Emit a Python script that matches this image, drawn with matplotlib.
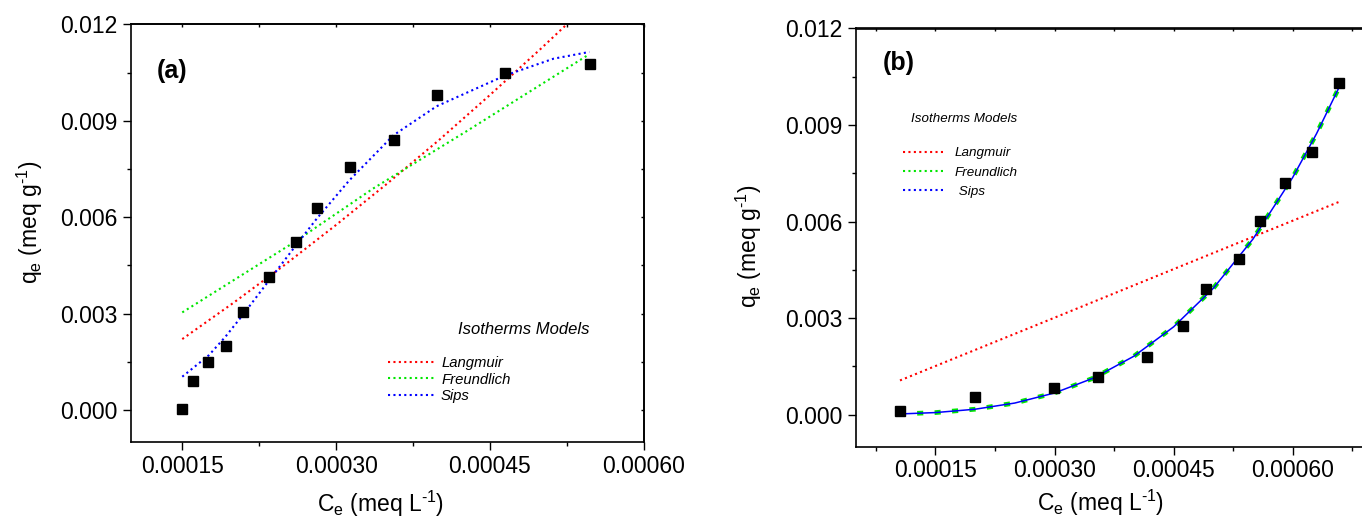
import matplotlib
matplotlib.use('Agg')
import matplotlib.pyplot as plt
from matplotlib.ticker import FixedLocator, FormatStrFormatter
from matplotlib.lines import Line2D

# ---------------- data ----------------
# panel (a) experimental points
a_ce = [0.000150, 0.000160, 0.0001755, 0.0001924, 0.0002094, 0.0002348, 0.0002607,
        0.0002811, 0.0003139, 0.0003567, 0.0003984, 0.0004651, 0.0005472]
a_qe = [0.00005, 0.00092, 0.00150, 0.00198, 0.00304, 0.00414, 0.00524,
        0.00629, 0.00757, 0.00841, 0.00979, 0.01050, 0.01075]
# panel (a) model curves
a_lang_x = [0.00015, 0.00020, 0.00025, 0.00030, 0.00035, 0.00040, 0.00045, 0.00050, 0.000525]
a_lang_y = [0.00221, 0.00334, 0.00452, 0.00576, 0.00705, 0.00839, 0.00980, 0.01125, 0.01200]
a_freu_x = [0.00015, 0.00026, 0.000336, 0.000427, 0.0005465]
a_freu_y = [0.00304, 0.00524, 0.00689, 0.00867, 0.01106]
a_sips_x = [0.00015, 0.000176, 0.000192, 0.000209, 0.000235, 0.000261, 0.000281,
            0.000313, 0.000356, 0.000398, 0.000465, 0.000512, 0.000547]
a_sips_y = [0.00104, 0.00171, 0.00228, 0.00296, 0.00405, 0.00513, 0.00595,
            0.00715, 0.00855, 0.00945, 0.01041, 0.01093, 0.01114]

# panel (b) experimental points
b_ce = [0.0001054, 0.0001993, 0.0002995, 0.0003543, 0.0004169, 0.000462,
        0.0004912, 0.000532, 0.0005591, 0.0005909, 0.0006244, 0.0006583]
b_qe = [0.000124, 0.00054, 0.00081, 0.00117, 0.00178, 0.00276,
        0.00391, 0.00482, 0.00603, 0.00721, 0.00816, 0.01032]
# panel (b) model curves
b_lang_x = [0.0001054, 0.00030, 0.00045, 0.0006583]
b_lang_y = [0.00106, 0.00301, 0.00452, 0.00661]
b_fit_x = [0.000105, 0.00015, 0.00020, 0.00025, 0.00030, 0.00035, 0.00040,
           0.00045, 0.00050, 0.00055, 0.00060, 0.00063, 0.000658]
b_fit_y = [0.0000177, 0.0000608, 0.000165, 0.000357, 0.00067, 0.001142, 0.001813,
           0.002725, 0.003924, 0.005456, 0.00737, 0.00873, 0.01015]

x_ticks = [0.00015, 0.00030, 0.00045, 0.00060]
a_x_minor = [0.000225, 0.000375, 0.000525]
b_x_minor = [0.000075, 0.000225, 0.000375, 0.000525, 0.000675]
y_ticks = [0.000, 0.003, 0.006, 0.009, 0.012]
y_minor = [-0.0015, 0.0015, 0.0045, 0.0075, 0.0105]

models = ['Langmuir', 'Freundlich', 'Sips']
legend_title = 'Isotherms Models'
xlabel = 'C$_\\mathregular{e}$ (meq L$^\\mathregular{\u20101}$)'
ylabel = 'q$_\\mathregular{e}$ (meq g$^\\mathregular{\u20101}$)'

# ---------------- style ----------------
plt.rcParams['font.family'] = ['Liberation Sans', 'DejaVu Sans']
plt.rcParams['mathtext.fontset'] = 'custom'
plt.rcParams['mathtext.rm'] = 'Liberation Sans'
plt.rcParams['mathtext.it'] = 'Liberation Sans:italic'
plt.rcParams['mathtext.bf'] = 'Liberation Sans:bold'

RED = '#ff0000'
GREEN = '#00e600'
BLUE = '#0000ff'
DOT = (0, (1, 1.6))

W, H = 1362, 522
fig = plt.figure(figsize=(W / 100, H / 100), dpi=100)


def fx(px):
    return px / W


def fy(py):
    return 1 - py / H


axA = fig.add_axes([fx(131), fy(442.3), (643.7 - 131) / W, (442.3 - 24.3) / H])
axB = fig.add_axes([fx(856.0), fy(446.7), (1372.1 - 856.0) / W, (446.7 - 28.5) / H])


def style(ax, xlim, xminor):
    ax.set_xlim(*xlim)
    ax.set_ylim(-0.001, 0.012)
    ax.xaxis.set_major_locator(FixedLocator(x_ticks))
    ax.xaxis.set_minor_locator(FixedLocator(xminor))
    ax.yaxis.set_major_locator(FixedLocator(y_ticks))
    ax.yaxis.set_minor_locator(FixedLocator(y_minor))
    ax.xaxis.set_major_formatter(FormatStrFormatter('%.5f'))
    ax.yaxis.set_major_formatter(FormatStrFormatter('%.3f'))
    ax.tick_params(which='major', direction='out', length=5.8, width=1.0,
                   labelsize=16.5, color='black')
    ax.tick_params(axis='x', which='major', pad=3)
    ax.tick_params(axis='y', which='major', pad=4)
    ax.tick_params(which='minor', direction='out', length=3.0, width=1.0)
    for s in ax.spines.values():
        s.set_linewidth(1.2)
    top = ax.secondary_xaxis('top')
    top.xaxis.set_major_locator(FixedLocator(x_ticks))
    top.xaxis.set_minor_locator(FixedLocator(xminor))
    top.tick_params(which='both', direction='in', length=2.2, width=1.0, labeltop=False)
    top.spines['top'].set_linewidth(1.2)
    right = ax.secondary_yaxis('right')
    right.yaxis.set_major_locator(FixedLocator(y_ticks))
    right.yaxis.set_minor_locator(FixedLocator(y_minor))
    right.tick_params(which='both', direction='in', length=2.2, width=1.0, labelright=False)
    right.spines['right'].set_linewidth(1.2)


style(axA, (0.0001, 0.0006), a_x_minor)
style(axB, (0.00005, 0.0007), b_x_minor)

# ---------------- panel (a) ----------------
lA1, = axA.plot(a_lang_x, a_lang_y, color=RED, lw=1.5, ls=DOT, label=models[0])
lA2, = axA.plot(a_freu_x, a_freu_y, color=GREEN, lw=1.5, ls=DOT, label=models[1])
lA3, = axA.plot(a_sips_x, a_sips_y, color=BLUE, lw=1.5, ls=DOT, label=models[2])
axA.plot(a_ce, a_qe, ls='none', marker='s', ms=6.5, mfc='black', mec='black', zorder=5)

axA.legend(handles=[lA1, lA2, lA3], loc='center left',
           bbox_to_anchor=(fx(388), fy(379.5)), bbox_transform=fig.transFigure,
           frameon=False, prop={'style': 'italic', 'size': 10.7},
           handlelength=3.1, handletextpad=0.47, labelspacing=0.16,
           borderpad=0, borderaxespad=0)
fig.text(fx(458), fy(329), legend_title, style='italic', fontsize=12,
         ha='left', va='center')
fig.text(fx(156.7), fy(71), '(a)', fontweight='bold', fontsize=18, ha='left', va='center')
fig.text(fx(381), fy(512), xlabel, ha='center', va='baseline', fontsize=16.5)
fig.text(fx(29.6), fy(222.6), ylabel, rotation=90, ha='center', va='center', fontsize=16.5)

# ---------------- panel (b) ----------------
axB.plot(b_lang_x, b_lang_y, color=RED, lw=1.5, ls=DOT)
axB.plot(b_fit_x, b_fit_y, color=GREEN, lw=3.4, ls=(0, (1.3, 2.4)))
axB.plot(b_fit_x, b_fit_y, color=BLUE, lw=1.1, ls='-')
axB.plot(b_ce, b_qe, ls='none', marker='s', ms=6.5, mfc='black', mec='black', zorder=5)

proxies = [Line2D([], [], color=c, lw=1.5, ls=DOT) for c in (RED, GREEN, BLUE)]
axB.legend(handles=proxies, labels=[models[0], models[1], ' ' + models[2]],
           loc='center left', bbox_to_anchor=(fx(902.7), fy(172.5)),
           bbox_transform=fig.transFigure, frameon=False,
           prop={'style': 'italic', 'size': 9.7},
           handlelength=3.05, handletextpad=0.8, labelspacing=0.52,
           borderpad=0, borderaxespad=0)
fig.text(fx(911), fy(118.7), legend_title, style='italic', fontsize=9.6,
         ha='left', va='center')
fig.text(fx(882.7), fy(63.3), '(b)', fontweight='bold', fontsize=18, ha='left', va='center')
fig.text(fx(1101), fy(511), xlabel, ha='center', va='baseline', fontsize=16.5)
fig.text(fx(748.5), fy(246.7), ylabel, rotation=90, ha='center', va='center', fontsize=16.5)

fig.savefig('out.png', dpi=100)
